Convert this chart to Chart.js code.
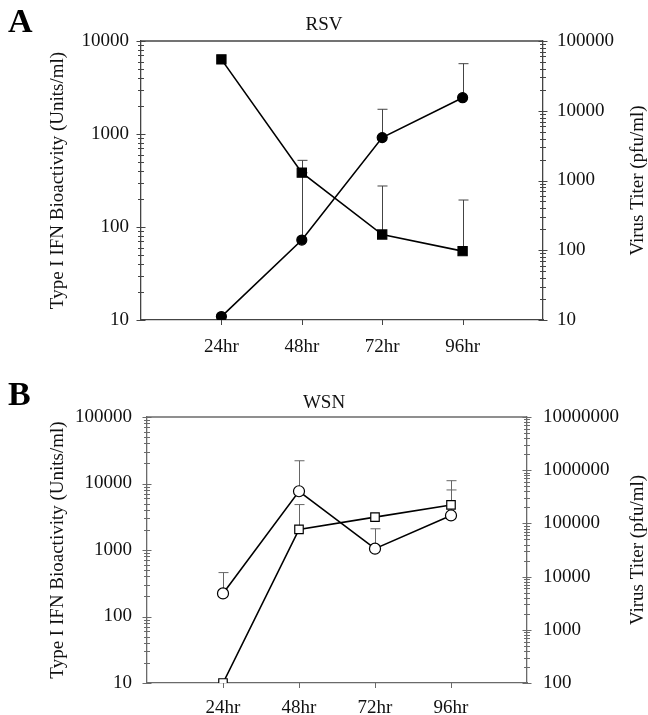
<!DOCTYPE html>
<html>
<head>
<meta charset="utf-8">
<script src="https://cdn.jsdelivr.net/npm/chart.js@4.4.1/dist/chart.umd.min.js"></script>
<style>
  html, body { margin:0; padding:0; background:#fff; }
  body { width:648px; height:715px; position:relative; overflow:hidden; font-family:'Liberation Serif','Times New Roman',serif; }
  .pane { position:absolute; left:0; width:648px; }
  .plabel { position:absolute; left:8px; font:bold 34px/1 'Liberation Serif','Times New Roman',serif; color:#000; }
</style>
</head>
<body>
<div class="pane" style="top:0;height:360px"><canvas id="chartA"></canvas></div>
<div class="pane" style="top:360px;height:355px"><canvas id="chartB"></canvas></div>
<div class="plabel" style="top:4px">A</div>
<div class="plabel" style="top:377px">B</div>
<script>
// ---------- data ----------
const categories = ['24hr', '48hr', '72hr', '96hr'];

// Panel A (RSV)
const ifnA = [6350, 384, 83, 55];              // Type I IFN (Units/ml), left axis, filled squares
const ifnUpperA = [null, 521, 276, 195];
const virusA = [11.2, 140, 4120, 15400];       // Virus titer (pfu/ml), right axis, filled circles
const virusUpperA = [null, 1290, 10500, 47300];

// Panel B (WSN)
const ifnB = [10, 2040, 3120, 4760];           // open squares, left axis
const ifnUpperB = [null, 4820, null, 8000];
const virusB = [4830, 402000, 33500, 141000];  // open circles, right axis
const virusUpperB = [11900, 1505000, 79200, 635000];

// axis tick labels (powers of ten)
const leftTicksA = [10, 100, 1000, 10000];
const rightTicksA = [10, 100, 1000, 10000, 100000];
const leftTicksB = [10, 100, 1000, 10000, 100000];
const rightTicksB = [100, 1000, 10000, 100000, 1000000, 10000000];

// ---------- helpers ----------
const FONT = "'Liberation Serif','Times New Roman',serif";
const padLabels = ['', ...categories, ''];
const pad = arr => [null, ...arr, null];

function logTicks(majors) {
  const out = [];
  for (let i = 0; i < majors.length; i++) {
    out.push(majors[i]);
    if (i < majors.length - 1) for (let d = 2; d <= 9; d++) out.push(majors[i] * d);
  }
  return out;
}

const crossTicks = {
  id: 'crossTicks',
  afterDraw(chart, args, opts) {
    const ctx = chart.ctx;
    ctx.save();
    ctx.strokeStyle = opts.color;
    ctx.lineWidth = 1;
    ['y', 'y1'].forEach(id => {
      const s = chart.scales[id];
      const majors = opts[id];
      const x = id === 'y' ? s.right : s.left;
      s.ticks.forEach(t => {
        const py = Math.round(s.getPixelForValue(t.value)) + 0.5;
        const isMaj = majors.includes(t.value);
        const L = isMaj ? 4.5 : 3;
        ctx.beginPath();
        ctx.moveTo(x - L, py); ctx.lineTo(x + L, py); ctx.stroke();
      });
    });
    const xs = chart.scales.x;
    xs.ticks.forEach((t, i) => {
      if (!padLabels[i]) return;
      const px = Math.round(xs.getPixelForTick(i)) + 0.5;
      ctx.beginPath(); ctx.moveTo(px, xs.top); ctx.lineTo(px, xs.top + 5); ctx.stroke();
    });
    // frame top line
    const a = chart.chartArea;
    ctx.lineWidth = 1.3;
    ctx.beginPath(); ctx.moveTo(a.left, a.top); ctx.lineTo(a.right, a.top); ctx.stroke();
    // right axis title, reading bottom-to-top
    ctx.fillStyle = '#111';
    ctx.font = '19px ' + FONT;
    ctx.textAlign = 'center'; ctx.textBaseline = 'middle';
    ctx.translate(opts.rightTitleX, (a.top + a.bottom) / 2);
    ctx.rotate(-Math.PI / 2);
    ctx.fillText(opts.rightTitle, 0, 0);
    ctx.restore();
  }
};

const errorBars = {
  id: 'errorBars',
  beforeDatasetsDraw(chart, args, opts) {
    const ctx = chart.ctx;
    const xs = chart.scales.x;
    ctx.save();
    ctx.strokeStyle = opts.color;
    ctx.lineWidth = 1;
    chart.data.datasets.forEach(ds => {
      const ys = chart.scales[ds.yAxisID];
      ds.upper.forEach((u, i) => {
        if (u == null) return;
        const px = Math.round(xs.getPixelForValue(i + 1)) + 0.5;
        const y0 = ys.getPixelForValue(ds.data[i + 1]);
        const y1 = ys.getPixelForValue(u);
        ctx.beginPath();
        ctx.moveTo(px, y0); ctx.lineTo(px, y1);
        ctx.moveTo(px - 5, y1); ctx.lineTo(px + 5, y1);
        ctx.stroke();
      });
    });
    ctx.restore();
  }
};

function makeChart(canvasId, cfg) {
  const yScale = (pos, min, max, majors, width, tickPad, title) => ({
    type: 'logarithmic', position: pos, min, max,
    afterBuildTicks: s => { s.ticks = logTicks(majors).map(v => ({ value: v })); },
    afterFit: s => { s.width = width; },
    grid: { display: false, drawTicks: false },
    border: { display: true, color: cfg.axisColor, width: 1.3 },
    ticks: {
      autoSkip: false, padding: tickPad, color: '#111',
      font: { family: FONT, size: 19 },
      callback: v => majors.includes(v) ? String(v) : ''
    },
    title: title ? { display: true, text: title, color: '#111', font: { family: FONT, size: 19 }, padding: { top: 46.6, bottom: 0 } } : { display: false }
  });
  return new Chart(document.getElementById(canvasId), {
    type: 'line',
    data: {
      labels: padLabels,
      datasets: [
        {
          data: pad(cfg.ifn), upper: cfg.ifnUpper, yAxisID: 'y',
          borderColor: '#000', borderWidth: 1.6, pointStyle: 'rect',
          pointRadius: cfg.sqR, pointBackgroundColor: cfg.fill, pointBorderColor: '#000', pointBorderWidth: 1.2,
          tension: 0
        },
        {
          data: pad(cfg.virus), upper: cfg.virusUpper, yAxisID: 'y1',
          borderColor: '#000', borderWidth: 1.6, pointStyle: 'circle',
          pointRadius: cfg.cR, pointBackgroundColor: cfg.fill, pointBorderColor: '#000', pointBorderWidth: 1.2,
          tension: 0
        }
      ]
    },
    options: {
      responsive: true, maintainAspectRatio: false, animation: false,
      layout: { padding: 0 },
      plugins: {
        legend: { display: false }, tooltip: { enabled: false },
        title: {
          display: true, text: cfg.title, color: '#111',
          font: { family: FONT, size: 19, weight: 'normal' },
          padding: { top: cfg.titleTop, bottom: cfg.titleBottom }
        },
        crossTicks: { color: cfg.axisColor, y: cfg.leftTicks, y1: cfg.rightTicks, rightTitle: 'Virus Titer (pfu/ml)', rightTitleX: 638 },
        errorBars: { color: cfg.errColor }
      },
      scales: {
        x: {
          type: 'category', offset: false,
          afterFit: s => { s.height = cfg.xHeight; },
          grid: { display: false, drawTicks: false },
          border: { display: true, color: cfg.axisColor, width: 1.3 },
          ticks: { autoSkip: false, maxRotation: 0, padding: cfg.xPad, color: '#111', font: { family: FONT, size: 19 } }
        },
        y: yScale('left', cfg.leftTicks[0], cfg.leftTicks[cfg.leftTicks.length - 1], cfg.leftTicks, cfg.leftW, cfg.leftPad, 'Type I IFN Bioactivity (Units/ml)'),
        y1: yScale('right', cfg.rightTicks[0], cfg.rightTicks[cfg.rightTicks.length - 1], cfg.rightTicks, cfg.rightW, cfg.rightPad, null)
      }
    },
    plugins: [errorBars, crossTicks]
  });
}

makeChart('chartA', {
  title: 'RSV', ifn: ifnA, ifnUpper: ifnUpperA, virus: virusA, virusUpper: virusUpperA,
  leftTicks: leftTicksA, rightTicks: rightTicksA, fill: '#000', sqR: 6.5, cR: 5,
  axisColor: '#444', errColor: '#444',
  titleTop: 13.6, titleBottom: 4.6, xHeight: 40, xPad: 16,
  leftW: 141, rightW: 105, leftPad: 12, rightPad: 14
});

makeChart('chartB', {
  title: 'WSN', ifn: ifnB, ifnUpper: ifnUpperB, virus: virusB, virusUpper: virusUpperB,
  leftTicks: leftTicksB, rightTicks: rightTicksB, fill: '#fff', sqR: 6, cR: 5.5,
  axisColor: '#6a6a6a', errColor: '#666',
  titleTop: 31.6, titleBottom: 2.6, xHeight: 32, xPad: 13.6,
  leftW: 147, rightW: 121, leftPad: 15, rightPad: 16
});
</script>
</body>
</html>
